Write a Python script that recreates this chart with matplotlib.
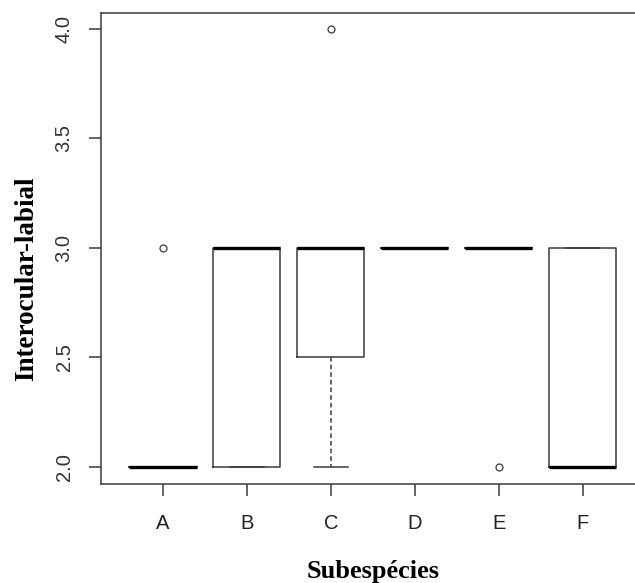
import matplotlib
matplotlib.use("Agg")
import matplotlib.pyplot as plt

categories = ["A", "B", "C", "D", "E", "F"]
medians = [2.0, 3.0, 3.0, 3.0, 3.0, 2.0]
q1 = [2.0, 2.0, 2.5, 3.0, 3.0, 2.0]
q3 = [2.0, 3.0, 3.0, 3.0, 3.0, 3.0]
whisker_low = [2.0, 2.0, 2.0, 3.0, 3.0, 2.0]
whisker_high = [2.0, 3.0, 3.0, 3.0, 3.0, 3.0]
outliers = [[3.0], [], [4.0], [], [2.0], []]
yticks = [2.0, 2.5, 3.0, 3.5, 4.0]

stats = []
for i, c in enumerate(categories):
    stats.append(dict(label=c, med=medians[i], q1=q1[i], q3=q3[i],
                      whislo=whisker_low[i], whishi=whisker_high[i],
                      fliers=outliers[i]))

W, H = 635, 583
fig = plt.figure(figsize=(W / 100, H / 100), dpi=100)
# frame extends past the right edge of the picture, as in the reference
ax = fig.add_axes([100.8 / W, 1 - 484 / H, 544 / W, 471 / H])

lc = "#3a3a3a"
ax.bxp(stats, positions=range(1, 7), widths=0.8, showcaps=True,
       boxprops=dict(color=lc, linewidth=1.1),
       whiskerprops=dict(color=lc, linewidth=1.1, linestyle=(0, (3, 2))),
       capprops=dict(color=lc, linewidth=1.1),
       medianprops=dict(color="black", linewidth=2.4, solid_capstyle="butt"),
       flierprops=dict(marker="o", markerfacecolor="none", markeredgecolor=lc,
                       markersize=5, markeredgewidth=0.9),
       capwidths=0.4)

ax.set_xlim(0.26, 6.74)
ax.set_ylim(1.922, 4.073)
ax.set_yticks(yticks)
ax.set_yticklabels([f"{v:.1f}" for v in yticks], rotation=90, va="center",
                   family="Liberation Sans", fontsize=14.5, color="#333333")
ax.set_xticks(range(1, 7))
ax.set_xticklabels(categories, family="Liberation Sans", fontsize=14.5, color="#222222")
ax.tick_params(axis="both", length=8.6, width=1.1, color=lc)
ax.tick_params(axis="x", pad=13)
ax.tick_params(axis="y", pad=11)
for s in ax.spines.values():
    s.set_color(lc)
    s.set_linewidth(1.1)

fig.text(373 / W, 1 - 578 / H, "Subespécies", ha="center", va="baseline",
         family="Liberation Serif", fontweight="bold", fontsize=19)
fig.text(27 / W, 1 - 279 / H, "Interocular-labial", ha="center", va="center",
         rotation=90, family="Liberation Serif", fontweight="bold", fontsize=19.5)

fig.savefig("out.png", dpi=100)
